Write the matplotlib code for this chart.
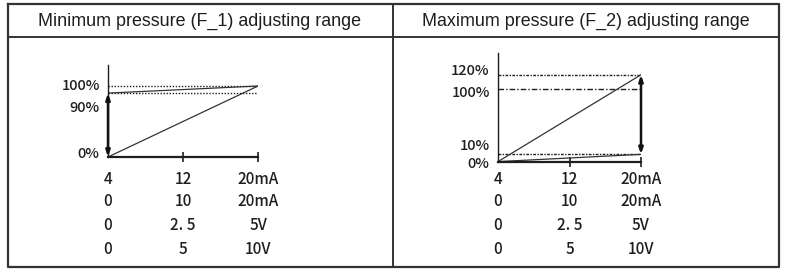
import matplotlib
matplotlib.use("Agg")
import matplotlib.pyplot as plt
from matplotlib.transforms import blended_transform_factory

W, H = 785, 275

# x positions of the input scale (mA) and the value rows under each chart
x_ticks = [4, 12, 20]
rows = [
    ["4", "12", "20mA"],
    ["0", "10", "20mA"],
    ["0", "2. 5", "5V"],
    ["0", "5", "10V"],
]

# left panel: minimum pressure F_1
f1_title = "Minimum pressure (F_1) adjusting range"
f1_levels = [0, 90, 100]
f1_labels = ["0%", "90%", "100%"]
f1_line_a = ([4, 20], [0, 100])
f1_line_b = ([4, 20], [90, 100])
f1_arrow = (4, 90, 0)

# right panel: maximum pressure F_2
f2_title = "Maximum pressure (F_2) adjusting range"
f2_levels = [0, 10, 100, 120]
f2_labels = ["0%", "10%", "100%", "120%"]
f2_line_a = ([4, 20], [0, 120])
f2_line_b = ([4, 20], [0, 10])
f2_arrow = (20, 120, 10)

NUM_FONT = ["Noto Sans CJK JP", "DejaVu Sans"]
INK = "#1e1e1e"

fig = plt.figure(figsize=(W / 100, H / 100), dpi=100)


def fx(px):
    return px / W


def fy(py):
    return 1 - py / H


# table frame
frame = fig.add_axes([0, 0, 1, 1])
frame.set_xlim(0, W)
frame.set_ylim(H, 0)
frame.axis("off")
frame.plot([8, 779, 779, 8, 8], [4, 4, 267, 267, 4], color="#333333", lw=1.6)
frame.plot([8, 779], [37, 37], color="#333333", lw=1.4)
frame.plot([393, 393], [4, 267], color="#333333", lw=1.4)
frame.text(200, 21, f1_title, ha="center", va="center", fontsize=12.9,
           family="Liberation Sans", color=INK)
frame.text(586, 21, f2_title, ha="center", va="center", fontsize=12.9,
           family="Liberation Sans", color=INK)


def draw_panel(x0, x1, y_zero, px_per_pct, y_top, levels, labels, label_shift,
               line_a, line_b, arrow, dotted_styles):
    top_pct = (y_zero - y_top) / px_per_pct
    ax = fig.add_axes([fx(x0), fy(y_zero), fx(x1 - x0), (y_zero - y_top) / H])
    ax.set_xlim(4, 20)
    ax.set_ylim(0, top_pct)
    ax.patch.set_alpha(0)
    for s in ("top", "right"):
        ax.spines[s].set_visible(False)
    ax.spines["left"].set_color(INK)
    ax.spines["bottom"].set_color(INK)
    ax.spines["left"].set_linewidth(1.0)
    ax.spines["bottom"].set_linewidth(1.6)
    ax.set_yticks([])
    ax.set_xticks(x_ticks[1:])
    ax.tick_params(axis="x", direction="inout", length=7, width=1.2,
                   color=INK, labelbottom=False)

    # dotted guide lines at each non-zero level
    for lv, ls in zip([l for l in levels if l > 0], dotted_styles):
        ax.plot([4, 20], [lv, lv], color=INK, lw=1.0, ls=ls)

    ax.plot(*line_a, color="#333333", lw=0.9)
    ax.plot(*line_b, color="#333333", lw=0.9)

    ax_x, y_from, y_to = arrow
    ax.annotate("", xy=(ax_x, y_to), xytext=(ax_x, y_from),
                arrowprops=dict(arrowstyle="<|-|>,head_length=0.35,head_width=0.12",
                                color="#111111", lw=1.8, shrinkA=0, shrinkB=0),
                annotation_clip=False)

    # level labels to the left of the axis
    for lv, lab, dy in zip(levels, labels, label_shift):
        ax.annotate(lab, xy=(0, lv), xycoords=("axes fraction", "data"),
                    xytext=(-6, dy), textcoords="offset points",
                    ha="right", va="center", fontsize=10.5, family=NUM_FONT,
                    weight="medium", color=INK, annotation_clip=False)

    # value rows under the axis
    tr = blended_transform_factory(ax.transData, fig.transFigure)
    for row, py in zip(rows, [179, 202, 226, 250]):
        for xv, txt in zip(x_ticks, row):
            ax.text(xv, fy(py), txt, transform=tr, ha="center", va="center",
                    fontsize=11, family=NUM_FONT, weight="medium", color=INK)
    return ax


draw_panel(108, 258, 157, 0.71, 65, f1_levels, f1_labels, [2, -11, 0],
           f1_line_a, f1_line_b, f1_arrow, [(0, (1, 1.2)), (0, (1, 1.2))])

draw_panel(498, 641, 161.6, 0.7237, 53, f2_levels, f2_labels, [-2, 6, -3, 3],
           f2_line_a, f2_line_b, f2_arrow,
           [(0, (2, 1, 1, 1)), (0, (4, 1.5, 1, 1.5)), (0, (2, 1, 1, 1))])

fig.savefig("out.png", dpi=100, facecolor="white")
